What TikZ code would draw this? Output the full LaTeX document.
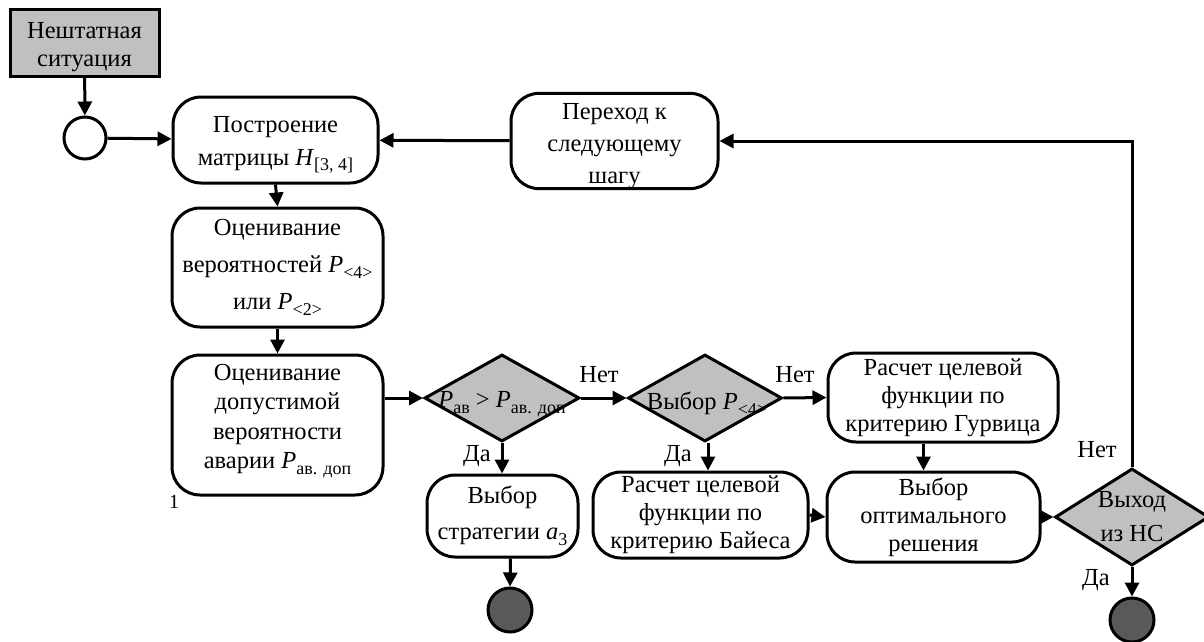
\documentclass[tikz,border=0pt]{standalone}
\usepackage{fontspec}
\setmainfont{Liberation Serif}
\usetikzlibrary{shapes.geometric,arrows.meta,positioning}
\definecolor{lightg}{HTML}{C0C0C0}
\definecolor{darkg}{HTML}{595959}
\newcommand\lsub[1]{\raisebox{-0.5ex}{\fontsize{18}{18}\selectfont #1}}
\begin{document}
\begin{tikzpicture}[x=1pt,y=-1pt,
  every node/.style={font=\fontsize{24.5}{28}\selectfont},
  proc/.style={draw,line width=3pt,rounded corners=28pt,align=center,inner sep=0pt},
  dia/.style={draw,line width=3pt,diamond,fill=lightg,inner sep=0pt},
  arr/.style={line width=3pt,-{Triangle[length=14pt,width=14pt]}},
  lbl/.style={inner sep=0pt},
  endc/.style={circle,draw,line width=3pt,fill=darkg,minimum size=44pt,inner sep=0pt}]
\useasboundingbox (0,0) rectangle (1204,642);
% nodes
\node[draw,line width=3pt,fill=lightg,align=center,minimum width=149pt,minimum height=66pt,inner sep=0pt] (start) at (84.5,43) {\rule{0pt}{24pt}Нештатная\\ситуация};
\node[circle,draw,line width=3pt,minimum size=42pt,inner sep=0pt] (init) at (85,138) {};
\node[proc,minimum width=205pt,minimum height=86pt,font=\fontsize{24.5}{33}\selectfont] (build) at (275.5,140) {\rule{0pt}{26pt}Построение\\матрицы \textit{H}\lsub{[3, 4]}};
\node[proc,minimum width=207pt,minimum height=88pt,font=\fontsize{24.5}{32}\selectfont] (next) at (614.5,141) {\rule{0pt}{26pt}Переход к\\следующему\\шагу};
\node[proc,minimum width=211pt,minimum height=119pt,font=\fontsize{24.5}{37}\selectfont] (est1) at (277.5,267.5) {Оценивание\\вероятностей \textit{P}\lsub{<4>}\\или \textit{P}\lsub{<2>}};
\node[proc,minimum width=211pt,minimum height=140pt,label={[lbl,align=center,yshift=4pt,font=\fontsize{24.5}{29.5}\selectfont]center:Оценивание\\допустимой\\вероятности\\аварии \textit{P}\lsub{ав. доп}}] (est2) at (277.5,425) {};
\node[dia,minimum width=155pt,minimum height=87pt,label={[lbl,yshift=-6pt]center:\textit{P}\lsub{ав} > \textit{P}\lsub{ав. доп}}] (d1) at (502,398) {};
\node[dia,minimum width=154pt,minimum height=87pt,label={[lbl,yshift=-6pt,xshift=2pt]center:Выбор \textit{P}\lsub{<4>}}] (d2) at (705,398) {};
\node[proc,minimum width=230pt,minimum height=89pt] (gurv) at (943,397.5) {Расчет целевой\\функции по\\критерию Гурвица};
\node[proc,minimum width=151pt,minimum height=82pt,font=\fontsize{24.5}{36}\selectfont] (strat) at (502.5,516) {Выбор\\стратегии \textit{a}\lsub{3}};
\node[proc,minimum width=215pt,minimum height=86pt] (bayes) at (700.5,515) {Расчет целевой\\функции по\\критерию Байеса};
\node[proc,minimum width=213pt,minimum height=90pt] (opt) at (933.5,517) {Выбор\\оптимального\\решения};
\node[dia,minimum width=154pt,minimum height=97pt,label={[lbl,align=center,font=\fontsize{24.5}{34}\selectfont]center:Выход\\из НС}] (d3) at (1132,517) {};
\node[endc] (end1) at (510,610) {};
\node[endc] (end2) at (1132,620) {};
\node[lbl,font=\fontsize{20}{20}\selectfont] (one) at (174,502) {1};
% connectors
\draw[arr] (start) -- (init);
\draw[arr] (init) -- (build);
\draw[arr] (next) -- (build);
\draw[arr] (d3.north) |- (next.east);
\draw[arr] (build.south) -- (est1.north);
\draw[arr] (est1.south) -- (est2.north);
\draw[arr] (est2.east |- d1.west) -- (d1.west);
\draw[arr] (d1.east) -- (d2.west);
\draw[arr] (d2.east) -- (gurv.west);
\draw[arr] (d1.south) -- (strat.north -| d1.south);
\draw[arr] ([xshift=3pt]d2.south) -- ([xshift=3pt]d2.south |- bayes.north);
\draw[arr] ([xshift=8pt]strat.south) -- (end1.north);
\draw[arr] ([xshift=-10pt]gurv.south -| opt.north) -- ([xshift=-10pt]opt.north);
\draw[arr] (bayes.east) -- (opt.west);
\draw[arr] (opt.east) -- (d3.west);
\draw[arr] (d3.south) -- (end2.north);
\node[lbl] (no1) at (599,375) {Нет};
\node[lbl] (no2) at (795,375) {Нет};
\node[lbl] (no3) at (1097,450) {Нет};
\node[lbl] (yes1) at (477,456) {Да};
\node[lbl] (yes2) at (678,456) {Да};
\node[lbl] (yes3) at (1096,580) {Да};
\end{tikzpicture}
\end{document}
